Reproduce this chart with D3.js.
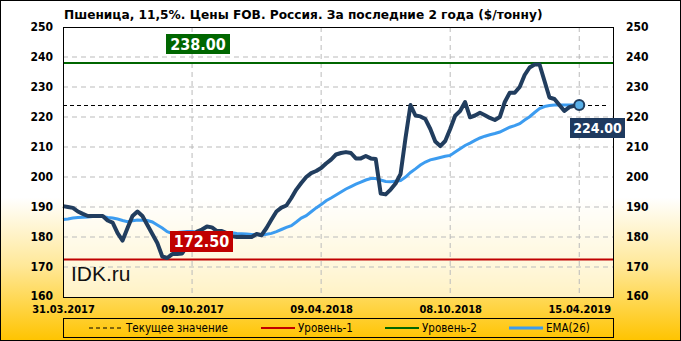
<!DOCTYPE html>
<html>
<head>
<meta charset="utf-8">
<script src="https://cdn.jsdelivr.net/npm/d3@7"></script>
<style>
  body { margin: 0; }
  svg { display: block; }
</style>
</head>
<body>
<script>
let width = 681;
let height = 341;

// weekly points, index based
let tickIndex = [0, 26, 52, 78, 104];
let tickLabels = ["31.03.2017", "09.10.2017", "09.04.2018", "08.10.2018", "15.04.2019"];
let yTicks = [160, 170, 180, 190, 200, 210, 220, 230, 240, 250];

let price = [
    190.3, 190, 189.7, 188.5, 187.7, 187, 187, 187, 187, 185.5,
    184.8, 181.3, 178.8, 183, 187, 188.5, 187, 184, 181, 178,
    173.5, 173, 174.3, 174.3, 174.5, 177, 180, 181.8, 182.5, 183.5,
    183.2, 182, 182, 181.3, 180.3, 180, 180.1, 180, 180, 181,
    180.6, 183, 185.8, 188.5, 189.8, 190.5, 193, 195.8, 198, 200,
    201.3, 202, 203, 204.5, 205.8, 207.5, 208, 208.3, 208, 206.2,
    206.2, 207, 206.2, 206, 194.5, 194.2, 195.8, 197.8, 201, 213,
    224, 220.5, 220.2, 219.3, 216, 211.8, 210.3, 212, 216, 220.4,
    222, 225, 219.9, 220.5, 221.4, 220.6, 219.7, 219, 220, 225,
    228.1, 228.1, 230, 234, 236.5, 237.5, 237.5, 232, 226.5, 226,
    224, 222, 223.3, 223.7, 224
];

let ema = [
    185.8, 186, 186.3, 186.5, 186.6, 186.7, 186.8, 186.8, 186.8, 186.5,
    186.3, 186, 185.5, 185.1, 185.4, 185.7, 185.6, 185.5, 185, 184,
    183, 181.8, 181.2, 181.5, 181.7, 181.8, 181.8, 181.7, 181.6, 181.5,
    181.5, 181.5, 181.4, 181.4, 181.4, 181.2, 181.1, 181, 180.8, 180.8,
    180.7, 180.9, 181.2, 181.8, 182.5, 183.2, 183.8, 185, 186.3, 187.1,
    188.4, 189.7, 190.8, 192.1, 193, 194, 195, 196, 196.8, 197.6,
    198.3, 199, 199.5, 199.5, 199, 198.5, 198.4, 198.6, 198.8, 200,
    201.5, 202.7, 204, 205, 205.7, 206.1, 206.5, 206.9, 207.2, 208.3,
    209.4, 210.5, 211.3, 212.2, 213, 213.6, 214.1, 214.5, 215, 215.8,
    216.6, 217.1, 217.8, 219, 220.1, 221.5, 222.8, 223.5, 223.8, 224,
    224, 224, 224, 224, 224
];

let level1 = 172.5;
let level2 = 238;
let current = price[price.length - 1];

let margin = { top: 27, right: 67, bottom: 44, left: 63 };
let plotW = width - margin.left - margin.right;
let plotH = height - margin.top - margin.bottom;

let svg = d3.select("body").append("svg")
    .attr("width", width)
    .attr("height", height)
    .style("font-family", "'DejaVu Sans Condensed', 'DejaVu Sans', sans-serif");

// background gradient
let defs = svg.append("defs");
let grad = defs.append("linearGradient")
    .attr("id", "bg")
    .attr("x1", 0).attr("y1", 0).attr("x2", 0).attr("y2", 1);
grad.append("stop").attr("offset", "0%").attr("stop-color", "#ffffff");
grad.append("stop").attr("offset", "58%").attr("stop-color", "#ffffff");
grad.append("stop").attr("offset", "78%").attr("stop-color", "#ffe898");
grad.append("stop").attr("offset", "100%").attr("stop-color", "#ffc400");

svg.append("rect")
    .attr("x", 0.5).attr("y", 0.5)
    .attr("width", width - 1).attr("height", height - 1)
    .style("fill", "url(#bg)")
    .style("stroke", "black");

let x = d3.scaleLinear().domain([0, 111]).range([margin.left, margin.left + plotW]);
let y = d3.scaleLinear().domain([160, 250]).range([margin.top + plotH, margin.top]);

// plot area
svg.append("rect")
    .attr("x", margin.left).attr("y", margin.top)
    .attr("width", plotW).attr("height", plotH)
    .style("fill", "white")
    .style("fill-opacity", 0.65);

// grid
let g = svg.append("g");
g.selectAll("line.hgrid")
    .data(yTicks.slice(1, -1))
    .enter()
    .append("line")
    .attr("class", "hgrid")
    .attr("x1", margin.left).attr("x2", margin.left + plotW)
    .attr("y1", d => y(d)).attr("y2", d => y(d))
    .style("stroke", "#bbbbbb")
    .style("stroke-dasharray", "5 4");

g.selectAll("line.vgrid")
    .data(tickIndex.slice(1))
    .enter()
    .append("line")
    .attr("class", "vgrid")
    .attr("x1", d => x(d)).attr("x2", d => x(d))
    .attr("y1", margin.top).attr("y2", margin.top + plotH)
    .style("stroke", "#bbbbbb")
    .style("stroke-dasharray", "5 4");

// levels
g.append("line")
    .attr("x1", margin.left).attr("x2", margin.left + plotW)
    .attr("y1", y(level1)).attr("y2", y(level1))
    .style("stroke", "#c00000").style("stroke-width", 2);
g.append("line")
    .attr("x1", margin.left).attr("x2", margin.left + plotW)
    .attr("y1", y(level2)).attr("y2", y(level2))
    .style("stroke", "#006600").style("stroke-width", 2);
g.append("line")
    .attr("x1", margin.left).attr("x2", x(110))
    .attr("y1", y(current) + 0.5).attr("y2", y(current) + 0.5)
    .style("stroke", "black").style("stroke-dasharray", "4 3");

// EMA and price lines
let line = d3.line()
    .x((d, i) => x(i))
    .y(d => y(d));

g.append("path")
    .attr("d", line(ema))
    .style("fill", "none")
    .style("stroke", "#3c9cf0")
    .style("stroke-width", 3);

g.append("path")
    .attr("d", line(price))
    .style("fill", "none")
    .style("stroke", "#213d5e")
    .style("stroke-width", 4)
    .style("stroke-linejoin", "round");

g.append("circle")
    .attr("cx", x(price.length - 1))
    .attr("cy", y(current))
    .attr("r", 5)
    .style("fill", "#5ab0e8")
    .style("stroke", "#213d5e")
    .style("stroke-width", 2);

// plot border
svg.append("rect")
    .attr("x", margin.left + 0.5).attr("y", margin.top + 0.5)
    .attr("width", plotW - 1).attr("height", plotH)
    .style("fill", "none")
    .style("stroke", "black");

// value labels
function valueLabel(text, cx, cy, w, h, fill, size) {
    svg.append("rect")
        .attr("x", cx - w / 2).attr("y", cy - h / 2)
        .attr("width", w).attr("height", h)
        .style("fill", fill);
    svg.append("text")
        .attr("x", cx).attr("y", cy + size * 0.36)
        .attr("text-anchor", "middle")
        .style("font-weight", "bold")
        .style("font-size", size + "px")
        .style("fill", "white")
        .text(text);
}
valueLabel(level2.toFixed(2), 198, y(level2) - 19, 64, 20, "#006600", 16);
valueLabel(level1.toFixed(2), 201.5, y(level1) - 18, 63, 21, "#c00000", 16);
valueLabel(current.toFixed(2), 597.5, y(current) + 23, 55, 20, "#1e3a5f", 14);

// watermark
svg.append("text")
    .attr("x", 71).attr("y", 281)
    .style("font-family", "'Liberation Sans', Arial, sans-serif")
    .style("font-size", "21px")
    .style("fill", "#111")
    .text("IDK.ru");

// axes
let yLeft = svg.append("g")
    .attr("transform", `translate(${margin.left - 10},0)`)
    .call(d3.axisLeft(y).tickValues(yTicks).tickSize(0).tickPadding(0));
let yRight = svg.append("g")
    .attr("transform", `translate(${margin.left + plotW + 12},0)`)
    .call(d3.axisRight(y).tickValues(yTicks).tickSize(0).tickPadding(0));
let xAxis = svg.append("g")
    .attr("transform", `translate(0,${margin.top + plotH + 8})`)
    .call(d3.axisBottom(x).tickValues(tickIndex).tickSize(0).tickPadding(0)
        .tickFormat((d, i) => tickLabels[i]));

[yLeft, yRight, xAxis].forEach(a => {
    a.select(".domain").remove();
    a.selectAll("text")
        .style("font-family", "'DejaVu Sans Condensed', sans-serif")
        .style("font-weight", "bold")
        .style("font-size", "12px")
        .style("fill", "black");
});
xAxis.selectAll("text").style("font-size", "11px");
// bottom value labels sit a little higher so they clear the date row
yLeft.selectAll(".tick text").filter(d => d === 160).attr("dy", "0.2em");
yRight.selectAll(".tick text").filter(d => d === 160).attr("dy", "0.2em");

// title
svg.append("text")
    .attr("x", 64).attr("y", 19)
    .style("font-family", "'DejaVu Sans', sans-serif")
    .style("font-weight", "bold")
    .style("font-size", "12.2px")
    .text("Пшеница,  11,5%.  Цены FOB.  Россия.  За последние  2 года ($/тонну)");

// legend
let legY = 328;
svg.append("rect")
    .attr("x", margin.left + 0.5).attr("y", 318.5)
    .attr("width", plotW - 1).attr("height", 19)
    .style("fill", "none")
    .style("stroke", "black");

let legendItems = [
    { label: "Текущее значение", color: "black", dash: "4 3", width: 1, x0: 89 },
    { label: "Уровень-1", color: "#c00000", dash: null, width: 2, x0: 261 },
    { label: "Уровень-2", color: "#006600", dash: null, width: 2, x0: 385 },
    { label: "EMA(26)", color: "#3c9cf0", dash: null, width: 3, x0: 509 }
];
let leg = svg.append("g").selectAll("g")
    .data(legendItems)
    .enter()
    .append("g");
leg.append("line")
    .attr("x1", d => d.x0).attr("x2", d => d.x0 + 34)
    .attr("y1", legY).attr("y2", legY)
    .style("stroke", d => d.color)
    .style("stroke-width", d => d.width)
    .style("stroke-dasharray", d => d.dash);
leg.append("text")
    .attr("x", d => d.x0 + 37)
    .attr("y", legY + 4)
    .style("font-size", "11.5px")
    .text(d => d.label);
</script>
</body>
</html>
